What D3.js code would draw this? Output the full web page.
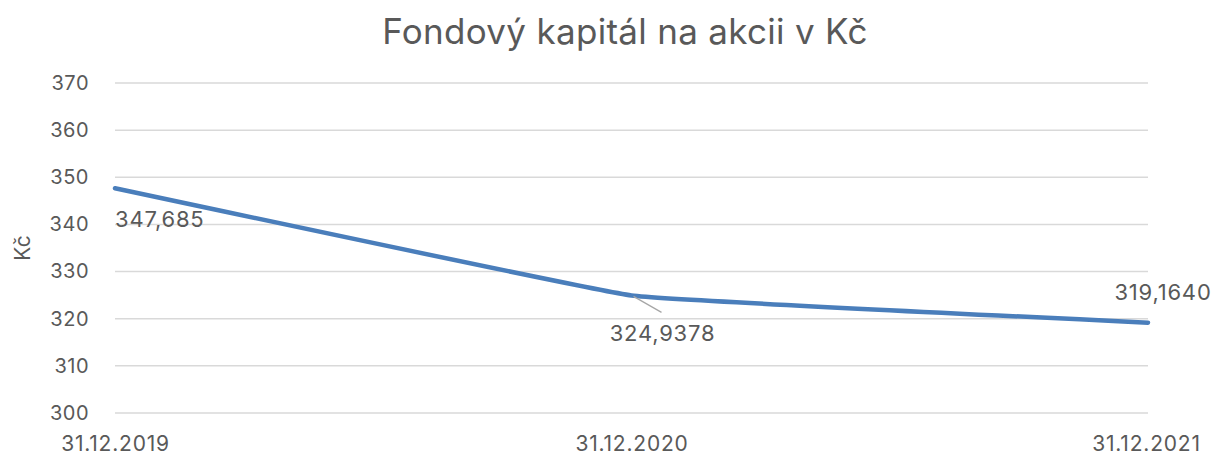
<!DOCTYPE html>
<html>
<head>
<meta charset="utf-8">
<script src="https://cdn.jsdelivr.net/npm/d3@7"></script>
<style>
  body { margin: 0; background: #fff; }
  text { font-family: Inter, "Noto Sans", sans-serif; fill: #595959; }
</style>
</head>
<body>
<div id="chart"></div>
<script>
// Chart data
const categories = ['31.12.2019', '31.12.2020', '31.12.2021'];
const values = [347.685, 324.9378, 319.1640];
const value_labels = ['347,685', '324,9378', '319,1640'];
const y_ticks = [300, 310, 320, 330, 340, 350, 360, 370];

const C = {
  width: 1214,
  height: 459,
  margin: {left: 115, right: 66, top: 83, bottom: 46},
  line_color: '#4a7ebb',
  grid_color: '#d9d9d9',
  font_size: 21,
};

const svg = d3.select('#chart').append('svg')
  .attr('width', C.width)
  .attr('height', C.height);

const X = d3.scalePoint()
  .domain(categories)
  .range([C.margin.left, C.width - C.margin.right]);

const Y = d3.scaleLinear()
  .domain([300, 370])
  .range([C.height - C.margin.bottom, C.margin.top]);

// Title
svg.append('text')
  .attr('x', 625).attr('y', 44)
  .attr('text-anchor', 'middle')
  .style('font-size', '35px')
  .style('letter-spacing', '0.3px')
  .text('Fondový kapitál na akcii v Kč');

// Gridlines
svg.append('g')
  .selectAll('line')
  .data(y_ticks)
  .join('line')
  .attr('x1', X.range()[0])
  .attr('x2', X.range()[1])
  .attr('y1', d => Y(d))
  .attr('y2', d => Y(d))
  .attr('stroke', C.grid_color)
  .attr('stroke-width', 1.5);

// Y axis ticks
const y_axis = svg.append('g')
  .attr('transform', `translate(${C.margin.left - 26},0)`)
  .call(d3.axisLeft(Y).tickValues(y_ticks).tickSize(0).tickPadding(0));
y_axis.select('.domain').remove();
y_axis.selectAll('text')
  .style('font-size', '20px')
  .style('letter-spacing', '0.5px')
  .style('font-family', 'Inter, "Noto Sans", sans-serif')
  .attr('fill', '#595959');

// X axis ticks
const x_axis = svg.append('g')
  .attr('transform', `translate(0,${C.height - C.margin.bottom + 31})`)
  .call(d3.axisBottom(X).tickSize(0).tickPadding(0));
x_axis.select('.domain').remove();
x_axis.selectAll('text')
  .style('font-size', C.font_size + 'px')
  .style('letter-spacing', '0.8px')
  .style('font-family', 'Inter, "Noto Sans", sans-serif')
  .attr('fill', '#595959')
  .attr('dy', '0.35em');
// keep last tick label inside the page like the original
x_axis.selectAll('.tick text')
  .attr('dx', (d, i) => i === 2 ? -2 : 0);

// Y axis title
svg.append('text')
  .attr('transform', 'translate(30,248) rotate(-90)')
  .attr('text-anchor', 'middle')
  .style('font-size', '21px')
  .text('Kč');

// Line
const line = d3.line()
  .x((d, i) => X(categories[i]))
  .y(d => Y(d))
  .curve(d3.curveCardinal.tension(0.8));

svg.append('path')
  .datum(values)
  .attr('d', line)
  .attr('fill', 'none')
  .attr('stroke', C.line_color)
  .attr('stroke-width', 4.5)
  .attr('stroke-linecap', 'round');

// Leader line for middle label
svg.append('line')
  .attr('x1', X(categories[1]) + 2).attr('y1', Y(values[1]) + 1)
  .attr('x2', X(categories[1]) + 30).attr('y2', Y(values[1]) + 17)
  .attr('stroke', '#a6a6a6')
  .attr('stroke-width', 1.3);

// Data labels: offsets relative to each point
const label_offsets = [
  {dx: 0, dy: 31, anchor: 'start'},
  {dx: 31, dy: 38, anchor: 'middle'},
  {dx: 15, dy: -30, anchor: 'middle'},
];

svg.append('g')
  .selectAll('text')
  .data(values)
  .join('text')
  .attr('x', (d, i) => X(categories[i]) + label_offsets[i].dx)
  .attr('y', (d, i) => Y(d) + label_offsets[i].dy)
  .attr('dy', '0.35em')
  .attr('text-anchor', (d, i) => label_offsets[i].anchor)
  .style('font-size', '22px')
  .style('letter-spacing', '0.8px')
  .text((d, i) => value_labels[i]);
</script>
</body>
</html>
